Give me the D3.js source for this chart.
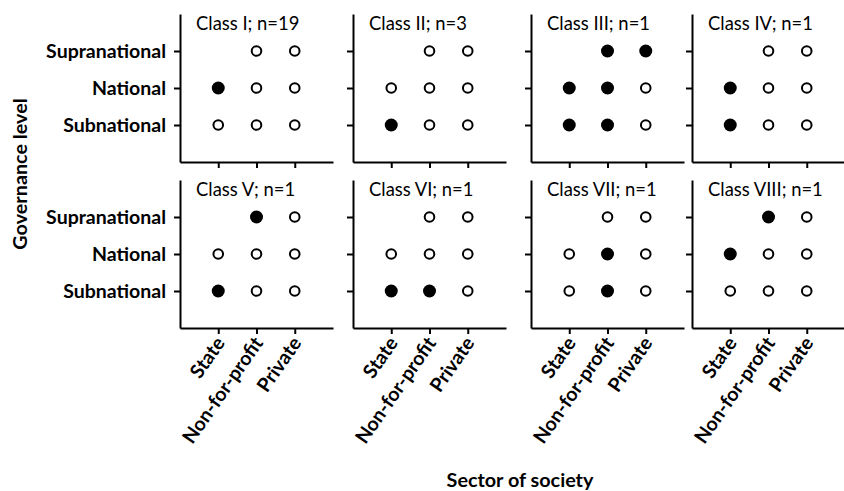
<!DOCTYPE html>
<html><head><meta charset="utf-8">
<script src="https://cdn.jsdelivr.net/npm/d3@7"></script>
<style>body{margin:0;background:#fff}svg{display:block}</style>
</head><body>
<svg id="c" width="844" height="491"></svg>
<script>
// Data
const sectors = ["State", "Non-for-profit", "Private"];
const levels = ["Subnational", "National", "Supranational"]; // bottom to top
const classTitles = ["Class I; n=19", "Class II; n=3", "Class III; n=1", "Class IV; n=1",
                     "Class V; n=1", "Class VI; n=1", "Class VII; n=1", "Class VIII; n=1"];
// rows: Subnational, National, Supranational; cols: State, Non-for-profit, Private
// 1 = filled, 0 = open, null = not applicable
const classI    = [[0,0,0],[1,0,0],[null,0,0]];
const classII   = [[1,0,0],[0,0,0],[null,0,0]];
const classIII  = [[1,1,0],[1,1,0],[null,1,1]];
const classIV   = [[1,0,0],[1,0,0],[null,0,0]];
const classV    = [[1,0,0],[0,0,0],[null,1,0]];
const classVI   = [[1,1,0],[0,0,0],[null,0,0]];
const classVII  = [[0,1,0],[0,1,0],[null,0,0]];
const classVIII = [[0,0,0],[1,0,0],[null,1,0]];
const classData = [classI, classII, classIII, classIV, classV, classVI, classVII, classVIII];

const svg = d3.select("#c");
const lefts = [180, 353, 531, 692];
const tops = [14, 180];
const W = 153, H = 148;
const FONT = "Lato, 'Open Sans', sans-serif";

const x = d3.scalePoint().domain(sectors).range([0, W]).padding(1);
const y = d3.scalePoint().domain(levels).range([H, 0]).padding(1);

classData.forEach((grid, i) => {
  const col = i % 4, row = Math.floor(i / 4);
  const g = svg.append("g").attr("transform", `translate(${lefts[col]},${tops[row]})`);

  const ya = g.append("g").call(d3.axisLeft(y).tickSize(6).tickSizeOuter(0)
      .tickFormat(col === 0 ? (d => d) : () => ""));
  const xa = g.append("g").attr("transform", `translate(0,${H})`)
      .call(d3.axisBottom(x).tickSize(6).tickSizeOuter(0)
      .tickFormat(row === 1 ? (d => d) : () => ""));

  [ya, xa].forEach(a => {
    a.select(".domain").attr("stroke", "#000").attr("stroke-width", 2);
    a.selectAll(".tick line").attr("stroke", "#000").attr("stroke-width", 2);
  });
  ya.selectAll(".tick text").attr("font-family", FONT).attr("font-weight", "bold")
    .attr("font-size", 19.5).attr("fill", "#000").attr("x", -14).attr("dy", "0.35em");
  xa.selectAll(".tick text").attr("font-family", FONT).attr("font-weight", "bold")
    .attr("font-size", 19.5).attr("fill", "#000")
    .attr("text-anchor", "end").attr("dy", null).attr("y", null)
    .attr("transform", "translate(7,15) rotate(-55)");

  g.append("text").attr("x", 16).attr("y", 16)
    .attr("font-family", FONT).attr("font-size", 18.4).attr("fill", "#000")
    .text(classTitles[i]);

  const pts = [];
  grid.forEach((r, ri) => r.forEach((v, ci) => {
    if (v !== null) pts.push({lev: levels[ri], sec: sectors[ci], v});
  }));
  g.selectAll("circle").data(pts).enter().append("circle")
    .attr("cx", d => x(d.sec)).attr("cy", d => y(d.lev))
    .attr("r", d => d.v ? 6.5 : 4.8)
    .attr("fill", d => d.v ? "#000" : "#fff")
    .attr("stroke", "#000").attr("stroke-width", d => d.v ? 0 : 2);
});

svg.append("text").attr("transform", "translate(27,174) rotate(-90)")
  .attr("text-anchor", "middle").attr("font-family", FONT).attr("font-weight", "bold")
  .attr("font-size", 19.8).attr("fill", "#000").text("Governance level");
svg.append("text").attr("x", 520).attr("y", 487)
  .attr("text-anchor", "middle").attr("font-family", FONT).attr("font-weight", "bold")
  .attr("font-size", 19.8).attr("fill", "#000").text("Sector of society");
</script>
</body></html>
